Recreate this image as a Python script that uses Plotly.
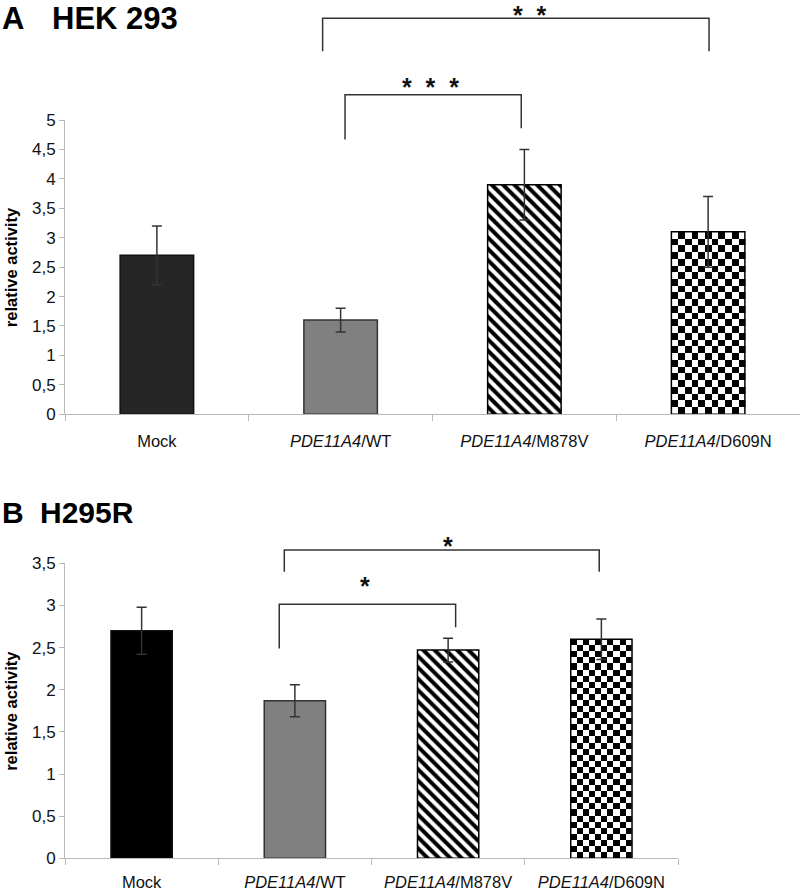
import plotly.graph_objects as go

# ---------------- data ----------------
categories = ["Mock", "PDE11A4/WT", "PDE11A4/M878V", "PDE11A4/D609N"]
tick_labels = ["Mock", "<i>PDE11A4</i>/WT", "<i>PDE11A4</i>/M878V", "<i>PDE11A4</i>/D609N"]

hek_mean = [2.7, 1.6, 3.9, 3.1]
hek_err = [0.5, 0.2, 0.6, 0.6]

h295_mean = [2.7, 1.87, 2.47, 2.6]
h295_err = [0.28, 0.19, 0.14, 0.24]

hek_yticks = [0, 0.5, 1, 1.5, 2, 2.5, 3, 3.5, 4, 4.5, 5]
h295_yticks = [0, 0.5, 1, 1.5, 2, 2.5, 3, 3.5]

# significance brackets: (x_left, x_right, y_left_leg, y_right_leg, y_top, label, label_x, label_y)
hek_brackets = [
    (1.024, 1.983, 4.67, 4.86, 5.43, "*\u00a0\u00a0*\u00a0\u00a0*", 1.49, 5.63),
    (0.902, 3.005, 6.17, 6.17, 6.73, "*\u00a0\u00a0*", 2.03, 6.86),
]
h295_brackets = [
    (0.898, 2.049, 2.49, 2.74, 3.013, "*", 1.458, 3.28),
    (0.931, 2.986, 3.40, 3.40, 3.657, "*", 1.997, 3.756),
]

# ---------------- style ----------------
W, H = 800, 893
FONT = "Liberation Sans, Arial, sans-serif"
AXIS_GREY = "#b8b8b8"
BAR_W = 0.4
x_pos = list(range(len(categories)))
bar_fill = ["MOCK", "#808080", "white", "rgba(0,0,0,0)"]
bar_line = ["#111111", "#333333", "#000000", "#000000"]
bar_pattern = ["", "", "\\", ""]


def comma(v):
    return ("%g" % v).replace(".", ",")


# panel geometry (paper fractions)
A_x_dom = [65 / W, 1.0]
A_y_dom = [0.5361, 0.8656]       # 0..5
A_y_full = [0.5361, 1.0]         # bracket layer
B_x_dom = [65 / W, 678 / W]
B_y_dom = [0.03886, 0.3692]      # 0..3.5
B_y_full = [0.03886, 0.4165]     # bracket layer

A_pxunit = (A_y_dom[1] - A_y_dom[0]) * H / 5.0
B_pxunit = (B_y_dom[1] - B_y_dom[0]) * H / 3.5
A_range_full = (A_y_full[1] - A_y_full[0]) * H / A_pxunit
B_range_full = (B_y_full[1] - B_y_full[0]) * H / B_pxunit
A_cat_px = (A_x_dom[1] - A_x_dom[0]) * W / 4.0
B_cat_px = (B_x_dom[1] - B_x_dom[0]) * W / 4.0

fig = go.Figure()


def checker(xc, top, xa, ya, pxunit, catpx, ncols):
    cell_px = BAR_W * catpx / ncols
    nrows = max(1, round(top * pxunit / cell_px))
    dx = BAR_W / ncols
    dy = top / nrows
    z = [[(i + j) % 2 for i in range(ncols)] for j in range(nrows)]
    fig.add_trace(go.Heatmap(
        z=z, x0=xc - BAR_W / 2 + dx / 2, dx=dx, y0=dy / 2, dy=dy,
        colorscale=[[0, "white"], [1, "black"]], showscale=False,
        hoverinfo="skip", xaxis=xa, yaxis=ya, zsmooth=False))


checker(x_pos[3], hek_mean[3], "x", "y", A_pxunit, A_cat_px, 11)
checker(x_pos[3], h295_mean[3], "x2", "y2", B_pxunit, B_cat_px, 10)


def bars(means, errs, mock_color, xa, ya):
    for i in range(len(means)):
        color = mock_color if bar_fill[i] == "MOCK" else bar_fill[i]
        marker = dict(color=color, line=dict(color=bar_line[i], width=1.5))
        if bar_pattern[i]:
            marker["pattern"] = dict(shape=bar_pattern[i], fgcolor="black", bgcolor="white",
                                     fgopacity=1, size=8, solidity=0.5, fillmode="overlay")
        fig.add_trace(go.Bar(
            x=[x_pos[i]], y=[means[i]], width=BAR_W, marker=marker,
            error_y=dict(type="data", array=[errs[i]], visible=True, color="#333333",
                         thickness=1.5, width=5),
            xaxis=xa, yaxis=ya, showlegend=False, hoverinfo="skip"))


bars(hek_mean, hek_err, "#262626", "x", "y")
bars(h295_mean, h295_err, "#000000", "x2", "y2")

annotations = []


def brackets(blist, xa, ya):
    for (xl, xr, yl, yr, yt, lab, lx, ly) in blist:
        fig.add_trace(go.Scatter(
            x=[xl, xl, xr, xr], y=[yl, yt, yt, yr], mode="lines",
            line=dict(color="#333333", width=1.5), xaxis=xa, yaxis=ya,
            showlegend=False, hoverinfo="skip"))
        annotations.append(dict(
            x=lx, y=ly, xref=xa, yref=ya, text="<b>" + lab + "</b>", showarrow=False,
            font=dict(family=FONT, size=25, color="#111111"),
            xanchor="center", yanchor="middle", yshift=-4))


brackets(hek_brackets, "x", "y3")
brackets(h295_brackets, "x2", "y4")

xaxis_common = dict(
    range=[-0.5, 3.5], tickvals=x_pos, ticktext=tick_labels, ticks="",
    showline=True, linecolor=AXIS_GREY, linewidth=1, showgrid=False, zeroline=False,
    tickfont=dict(family=FONT, size=16.5, color="#111111"),
    minor=dict(tickvals=[-0.5, 0.5, 1.5, 2.5, 3.5], ticks="outside", ticklen=6,
               tickcolor=AXIS_GREY, tickwidth=1),
)
yaxis_common = dict(
    showline=True, linecolor=AXIS_GREY, linewidth=1, showgrid=False, zeroline=False,
    ticks="outside", ticklen=5, tickcolor=AXIS_GREY,
    tickfont=dict(family=FONT, size=17, color="#111111"),
)
hidden = dict(visible=False, showgrid=False, zeroline=False)

fig.update_layout(
    width=W, height=H, margin=dict(l=0, r=0, t=0, b=0, autoexpand=False),
    paper_bgcolor="white", plot_bgcolor="rgba(0,0,0,0)",
    showlegend=False, barmode="overlay",
    xaxis=dict(domain=A_x_dom, anchor="y", ticklabelstandoff=12, **xaxis_common),
    yaxis=dict(domain=A_y_dom, anchor="x", range=[0, 5],
               tickvals=hek_yticks, ticktext=[comma(v) for v in hek_yticks], **yaxis_common),
    yaxis3=dict(domain=A_y_full, anchor="x", range=[0, A_range_full], **hidden),
    xaxis2=dict(domain=B_x_dom, anchor="y2", ticklabelstandoff=9, **xaxis_common),
    yaxis2=dict(domain=B_y_dom, anchor="x2", range=[0, 3.5],
                tickvals=h295_yticks, ticktext=[comma(v) for v in h295_yticks], **yaxis_common),
    yaxis4=dict(domain=B_y_full, anchor="x2", range=[0, B_range_full], **hidden),
)

# panel titles
annotations += [
    dict(text="<b>A</b>", x=0, y=1.0 - 18 / H, xref="paper", yref="paper", xanchor="left",
         yanchor="middle", showarrow=False, font=dict(family=FONT, size=31, color="black"), yshift=-1),
    dict(text="<b>HEK 293</b>", x=50 / W, y=1.0 - 18 / H, xref="paper", yref="paper", xanchor="left",
         yanchor="middle", showarrow=False, font=dict(family=FONT, size=31, color="black"), yshift=-1),
    dict(text="<b>B</b>", x=0, y=1.0 - 510 / H, xref="paper", yref="paper", xanchor="left",
         yanchor="middle", showarrow=False, font=dict(family=FONT, size=30, color="black"), yshift=-2),
    dict(text="<b>H295R</b>", x=38 / W, y=1.0 - 510 / H, xref="paper", yref="paper", xanchor="left",
         yanchor="middle", showarrow=False, font=dict(family=FONT, size=30, color="black"), yshift=-2),
    dict(text="<b>relative activity</b>", x=11 / W, y=sum(A_y_dom) / 2, xref="paper", yref="paper",
         textangle=-90, showarrow=False, xanchor="center", yanchor="middle",
         font=dict(family=FONT, size=16.5, color="black")),
    dict(text="<b>relative activity</b>", x=11 / W, y=sum(B_y_dom) / 2, xref="paper", yref="paper",
         textangle=-90, showarrow=False, xanchor="center", yanchor="middle",
         font=dict(family=FONT, size=16.5, color="black")),
]
fig.update_layout(annotations=annotations)

fig.write_html(
    "out.html",
    config={"displayModeBar": False, "responsive": False},
    post_script=("document.documentElement.style.margin='0';"
                 "document.documentElement.style.padding='0';"
                 "document.documentElement.style.overflow='hidden';"
                 "document.body.style.margin='0';"
                 "document.body.style.padding='0';"
                 "document.body.style.overflow='hidden';"),
)
